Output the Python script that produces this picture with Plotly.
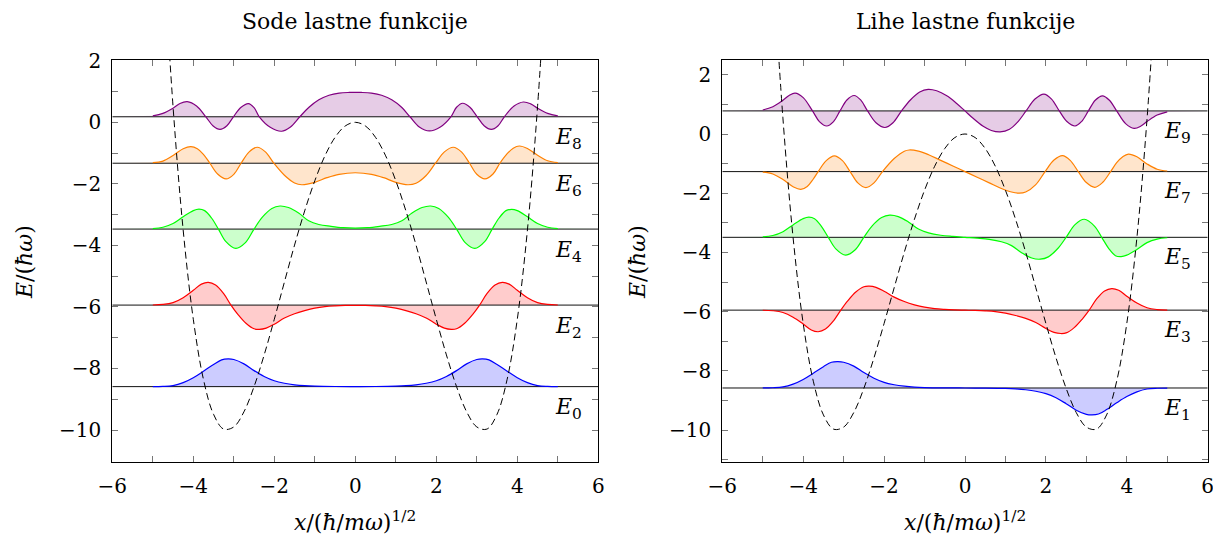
import plotly.graph_objects as go

# ---------------------------------------------------------------
# Double-well potential V(x) (dashed curve), sampled points
# ---------------------------------------------------------------
pot_x = [-4.75, -4.5, -4.25, -4.0, -3.75, -3.5, -3.25, -3.0, -2.75, -2.5,
         -2.25, -2.0, -1.75, -1.5, -1.25, -1.0, -0.75, -0.5, -0.25, 0.0,
         0.25, 0.5, 0.75, 1.0, 1.25, 1.5, 1.75, 2.0, 2.25, 2.5,
         2.75, 3.0, 3.25, 3.5, 3.75, 4.0, 4.25, 4.5, 4.75]
pot_v = [5.78, 0.51, -3.50, -6.40, -8.35, -9.49, -9.97, -9.90, -9.41, -8.59,
         -7.56, -6.40, -5.19, -3.99, -2.88, -1.90, -1.09, -0.49, -0.12, 0.0,
         -0.12, -0.49, -1.09, -1.90, -2.88, -3.99, -5.19, -6.40, -7.56, -8.59,
         -9.41, -9.90, -9.97, -9.49, -8.35, -6.40, -3.50, 0.51, 5.78]

# ---------------------------------------------------------------
# Energy levels
# ---------------------------------------------------------------
levels_even = [-8.59, -5.94, -3.47, -1.33, 0.18]   # E0, E2, E4, E6, E8
levels_odd = [-8.58, -5.95, -3.49, -1.27, 0.78]    # E1, E3, E5, E7, E9

# ---------------------------------------------------------------
# Eigenfunctions: sample positions and displacement from their level
# ---------------------------------------------------------------
psi0_x = [-5.0, -4.75, -4.5, -4.25, -4.0, -3.75, -3.5, -3.3, -3.14, -3.0,
          -2.75, -2.5, -2.25, -2.0, -1.75, -1.5, -1.25, -1.0, -0.5, 0.0,
          0.5, 1.0, 1.25, 1.5, 1.75, 2.0, 2.25, 2.5, 2.75, 3.0,
          3.14, 3.3, 3.5, 3.75, 4.0, 4.25, 4.5, 4.75, 5.0]
psi0_d = [0.002, 0.008, 0.035, 0.13, 0.29, 0.50, 0.72, 0.87, 0.90, 0.88,
          0.74, 0.52, 0.33, 0.19, 0.11, 0.06, 0.03, 0.015, 0.004, 0.002,
          0.004, 0.015, 0.03, 0.06, 0.11, 0.19, 0.33, 0.52, 0.74, 0.88,
          0.90, 0.87, 0.72, 0.50, 0.29, 0.13, 0.035, 0.008, 0.002]

psi1_x = psi0_x
psi1_d = [0.002, 0.008, 0.035, 0.13, 0.29, 0.50, 0.72, 0.87, 0.89, 0.87,
          0.74, 0.52, 0.33, 0.19, 0.11, 0.06, 0.03, 0.015, 0.004, 0.0,
          -0.004, -0.015, -0.03, -0.06, -0.11, -0.19, -0.33, -0.53, -0.75, -0.89,
          -0.91, -0.88, -0.73, -0.50, -0.29, -0.13, -0.035, -0.008, -0.002]

psi2_x = [-5.0, -4.75, -4.5, -4.25, -4.0, -3.8, -3.63, -3.45, -3.25, -3.07,
          -2.9, -2.7, -2.5, -2.37, -2.2, -2.0, -1.75, -1.5, -1.25, -1.0,
          -0.75, -0.5, -0.25, 0.0, 0.25, 0.5, 0.75, 1.0, 1.25, 1.5,
          1.75, 2.0, 2.2, 2.37, 2.5, 2.7, 2.9, 3.07, 3.25, 3.45,
          3.63, 3.8, 4.0, 4.25, 4.5, 4.75, 5.0]
psi2_d = [0.003, 0.02, 0.08, 0.24, 0.48, 0.68, 0.74, 0.65, 0.37, 0.0,
          -0.30, -0.59, -0.77, -0.79, -0.75, -0.62, -0.42, -0.28, -0.18, -0.10,
          -0.05, -0.025, -0.012, -0.01, -0.012, -0.025, -0.05, -0.10, -0.18, -0.28,
          -0.42, -0.62, -0.75, -0.79, -0.77, -0.59, -0.30, 0.0, 0.37, 0.65,
          0.74, 0.68, 0.48, 0.24, 0.08, 0.02, 0.003]

psi3_x = psi2_x
psi3_d = [-0.003, -0.02, -0.08, -0.24, -0.47, -0.67, -0.73, -0.64, -0.36, 0.0,
          0.31, 0.61, 0.79, 0.81, 0.77, 0.64, 0.44, 0.29, 0.18, 0.10,
          0.05, 0.025, 0.01, 0.0, -0.01, -0.025, -0.05, -0.10, -0.18, -0.28,
          -0.42, -0.62, -0.75, -0.79, -0.77, -0.59, -0.30, 0.0, 0.37, 0.65,
          0.73, 0.67, 0.47, 0.24, 0.08, 0.02, 0.003]

psi4_x = [-5.0, -4.75, -4.5, -4.25, -4.0, -3.86, -3.72, -3.55, -3.38, -3.2,
          -2.95, -2.72, -2.5, -2.3, -2.06, -1.86, -1.65, -1.4, -1.15, -0.9,
          -0.6, -0.3, 0.0, 0.3, 0.6, 0.9, 1.15, 1.4, 1.65, 1.86,
          2.06, 2.3, 2.5, 2.72, 2.95, 3.2, 3.38, 3.55, 3.72, 3.86,
          4.0, 4.25, 4.5, 4.75, 5.0]
psi4_d = [0.015, 0.06, 0.18, 0.40, 0.60, 0.65, 0.60, 0.36, 0.0, -0.40,
          -0.63, -0.45, 0.0, 0.38, 0.67, 0.75, 0.70, 0.52, 0.27, 0.15,
          0.09, 0.045, 0.03, 0.045, 0.09, 0.15, 0.27, 0.52, 0.70, 0.75,
          0.67, 0.38, 0.0, -0.45, -0.63, -0.40, 0.0, 0.36, 0.60, 0.64,
          0.60, 0.40, 0.18, 0.06, 0.015]

psi5_x = psi4_x
psi5_d = [0.015, 0.06, 0.19, 0.42, 0.63, 0.68, 0.63, 0.37, 0.0, -0.38,
          -0.60, -0.43, 0.0, 0.38, 0.67, 0.75, 0.70, 0.52, 0.28, 0.15,
          0.07, 0.03, 0.0, -0.03, -0.07, -0.15, -0.28, -0.52, -0.70, -0.74,
          -0.66, -0.37, 0.0, 0.43, 0.61, 0.38, 0.0, -0.37, -0.62, -0.65,
          -0.60, -0.41, -0.18, -0.06, -0.015]

psi6_x = [-5.0, -4.75, -4.5, -4.25, -4.06, -3.9, -3.75, -3.59, -3.4, -3.19,
          -3.0, -2.82, -2.62, -2.42, -2.22, -2.01, -1.75, -1.5, -1.32, -1.0,
          -0.7, -0.4, 0.0, 0.4, 0.7, 1.0, 1.3, 1.5, 1.75, 1.98,
          2.2, 2.42, 2.62, 2.82, 3.0, 3.2, 3.4, 3.57, 3.75, 3.9,
          4.05, 4.25, 4.5, 4.75, 5.0]
psi6_d = [0.02, 0.07, 0.25, 0.47, 0.54, 0.47, 0.29, 0.0, -0.35, -0.51,
          -0.36, 0.0, 0.37, 0.52, 0.37, 0.0, -0.39, -0.64, -0.70, -0.62,
          -0.47, -0.36, -0.31, -0.36, -0.47, -0.62, -0.70, -0.65, -0.40, 0.0,
          0.37, 0.52, 0.37, 0.0, -0.36, -0.51, -0.35, 0.0, 0.31, 0.49,
          0.56, 0.48, 0.26, 0.08, 0.02]

psi7_x = [-5.0, -4.75, -4.5, -4.25, -4.06, -3.9, -3.75, -3.63, -3.43, -3.23,
          -3.03, -2.84, -2.65, -2.45, -2.25, -2.04, -1.75, -1.5, -1.38, -1.15,
          -0.9, -0.6, -0.3, 0.0, 0.3, 0.6, 0.9, 1.15, 1.34, 1.5,
          1.75, 1.98, 2.2, 2.41, 2.6, 2.8, 3.0, 3.21, 3.4, 3.6,
          3.75, 3.9, 4.04, 4.25, 4.5, 4.75, 5.0]
psi7_d = [-0.02, -0.08, -0.27, -0.51, -0.60, -0.50, -0.25, 0.0, 0.37, 0.53,
          0.37, 0.0, -0.38, -0.54, -0.38, 0.0, 0.44, 0.69, 0.73, 0.69,
          0.57, 0.38, 0.19, 0.0, -0.19, -0.38, -0.57, -0.69, -0.73, -0.69,
          -0.44, 0.0, 0.39, 0.54, 0.38, 0.0, -0.37, -0.53, -0.37, 0.0,
          0.30, 0.50, 0.59, 0.50, 0.26, 0.08, 0.02]

psi8_x = [-5.0, -4.75, -4.5, -4.33, -4.15, -3.92, -3.69, -3.51, -3.34, -3.17,
          -3.01, -2.82, -2.64, -2.5, -2.37, -2.1, -1.82, -1.6, -1.37, -1.15,
          -0.9, -0.65, -0.4, -0.15, 0.15, 0.4, 0.65, 0.9, 1.15, 1.35,
          1.58, 1.83, 2.1, 2.36, 2.5, 2.65, 2.83, 3.01, 3.18, 3.36,
          3.52, 3.68, 3.92, 4.15, 4.33, 4.5, 4.75, 5.0]
psi8_d = [0.03, 0.11, 0.28, 0.43, 0.49, 0.35, 0.0, -0.30, -0.41, -0.29,
          0.0, 0.31, 0.43, 0.30, 0.0, -0.34, -0.47, -0.33, 0.0, 0.30,
          0.55, 0.70, 0.77, 0.79, 0.79, 0.77, 0.70, 0.55, 0.30, 0.0,
          -0.33, -0.46, -0.33, 0.0, 0.31, 0.44, 0.31, 0.0, -0.29, -0.41,
          -0.30, 0.0, 0.35, 0.48, 0.42, 0.28, 0.11, 0.03]

psi9_x = [-5.0, -4.75, -4.5, -4.35, -4.2, -4.0, -3.77, -3.6, -3.42, -3.25,
          -3.09, -2.92, -2.74, -2.58, -2.41, -2.2, -1.98, -1.78, -1.57, -1.35,
          -1.12, -0.91, -0.7, -0.45, -0.22, 0.0, 0.2, 0.45, 0.65, 0.87,
          1.1, 1.3, 1.51, 1.73, 1.95, 2.14, 2.33, 2.52, 2.72, 2.88,
          3.05, 3.22, 3.4, 3.57, 3.75, 3.97, 4.18, 4.35, 4.5, 4.75, 5.0]
psi9_d = [0.03, 0.14, 0.36, 0.52, 0.60, 0.45, 0.0, -0.36, -0.51, -0.36,
          0.0, 0.37, 0.52, 0.37, 0.0, -0.40, -0.56, -0.40, 0.0, 0.37,
          0.64, 0.73, 0.68, 0.51, 0.27, 0.0, -0.25, -0.52, -0.66, -0.71,
          -0.62, -0.38, 0.0, 0.40, 0.57, 0.40, 0.0, -0.36, -0.51, -0.36,
          0.0, 0.36, 0.51, 0.36, 0.0, -0.43, -0.59, -0.51, -0.36, -0.14, -0.03]

even_x = [psi0_x, psi2_x, psi4_x, psi6_x, psi8_x]
even_d = [psi0_d, psi2_d, psi4_d, psi6_d, psi8_d]
odd_x = [psi1_x, psi3_x, psi5_x, psi7_x, psi9_x]
odd_d = [psi1_d, psi3_d, psi5_d, psi7_d, psi9_d]
even_names = ["0", "2", "4", "6", "8"]
odd_names = ["1", "3", "5", "7", "9"]

# Line colours (blue, red, green, orange, violet) and their 20 % tints
line_colors = ["rgb(0,0,255)", "rgb(255,0,0)", "rgb(0,255,0)",
               "rgb(255,128,0)", "rgb(128,0,128)"]
fill_colors = ["rgb(204,204,255)", "rgb(255,204,204)", "rgb(204,255,204)",
               "rgb(255,229,204)", "rgb(230,204,230)"]

x_ticks = list(range(-6, 7))
x_tick_text = ["\u22126", "", "\u22124", "", "\u22122", "", "0", "", "2", "", "4", "", "6"]
y_ticks = list(range(-11, 3))
y_tick_text = ["", "\u221210", "", "\u22128", "", "\u22126", "", "\u22124",
               "", "\u22122", "", "0", "", "2"]

W, H = 1213, 537
FONT = "DejaVu Serif"

fig = go.Figure()


def add_panel(xa, ya, levels, xs, ds, names):
    for k in range(len(levels)):
        E = levels[k]
        # energy level line (also the reference for the fill)
        fig.add_trace(go.Scatter(
            x=[-6, 6], y=[E, E], mode="lines",
            line=dict(color="#111111", width=1),
            xaxis=xa, yaxis=ya, showlegend=False, hoverinfo="skip"))
        fig.add_trace(go.Scatter(
            x=xs[k], y=[E + v for v in ds[k]], mode="lines",
            line=dict(color=line_colors[k], width=1.2, shape="spline", smoothing=1.0),
            fill="tonexty", fillcolor=fill_colors[k],
            xaxis=xa, yaxis=ya, showlegend=False, hoverinfo="skip"))
        fig.add_annotation(
            x=4.88, y=E - 0.72, xref=xa, yref=ya,
            text="<i>E</i><sub>" + names[k] + "</sub>",
            showarrow=False, xanchor="left", yanchor="middle",
            font=dict(family=FONT, size=22, color="black"))
    fig.add_trace(go.Scatter(
        x=pot_x, y=pot_v, mode="lines",
        line=dict(color="black", width=1, dash="7px,4px", shape="spline"),
        xaxis=xa, yaxis=ya, showlegend=False, hoverinfo="skip"))


add_panel("x", "y", levels_even, even_x, even_d, even_names)
add_panel("x2", "y2", levels_odd, odd_x, odd_d, odd_names)

axis_common = dict(
    showline=True, linecolor="black", linewidth=1, mirror="ticks",
    ticks="inside", ticklen=6, tickcolor="#777777", tickwidth=1,
    showgrid=False, zeroline=False, automargin=False,
    ticklabeloverflow="allow",
    tickfont=dict(family=FONT, size=20, color="black"),
)

y_dom = [1 - 461.7 / H, 1 - 60 / H]
fig.update_layout(
    width=W, height=H,
    margin=dict(l=0, r=0, t=0, b=0, autoexpand=False),
    paper_bgcolor="white", plot_bgcolor="white",
    font=dict(family=FONT, size=20, color="black"),
    xaxis=dict(domain=[112.3 / W, 598.3 / W], range=[-6, 6], anchor="y",
               tickvals=x_ticks, ticktext=x_tick_text, ticklabelstandoff=6,
               **axis_common),
    yaxis=dict(domain=y_dom, range=[-11.03, 2.025], anchor="x",
               tickvals=y_ticks, ticktext=y_tick_text, ticklabelstandoff=6,
               **axis_common),
    xaxis2=dict(domain=[722.3 / W, 1207.7 / W], range=[-6, 6], anchor="y2",
                tickvals=x_ticks, ticktext=x_tick_text, ticklabelstandoff=6,
                **axis_common),
    yaxis2=dict(domain=y_dom, range=[-11.07, 2.5], anchor="x2",
                tickvals=y_ticks, ticktext=y_tick_text, ticklabelstandoff=6,
                **axis_common),
)

text_font = dict(family=FONT, size=22, color="black")
titles = [("Sode lastne funkcije", 355), ("Lihe lastne funkcije", 965)]
for txt, cx in titles:
    fig.add_annotation(x=cx / W, y=1 - 22 / H, xref="paper", yref="paper",
                       text=txt, showarrow=False, font=text_font,
                       xanchor="center", yanchor="middle")
    fig.add_annotation(x=cx / W, y=1 - 521 / H, xref="paper", yref="paper",
                       text="<i>x</i>/(<i>\u0127</i>/<i>m\u03c9</i>)<sup>1/2</sup>",
                       showarrow=False, font=text_font,
                       xanchor="center", yanchor="middle")

for cx in (24, 637):
    fig.add_annotation(x=cx / W, y=1 - 262 / H, xref="paper", yref="paper",
                       text="<i>E</i>/(<i>\u0127\u03c9</i>)", textangle=-90,
                       showarrow=False, font=text_font,
                       xanchor="center", yanchor="middle")

fig.write_html("out.html")
